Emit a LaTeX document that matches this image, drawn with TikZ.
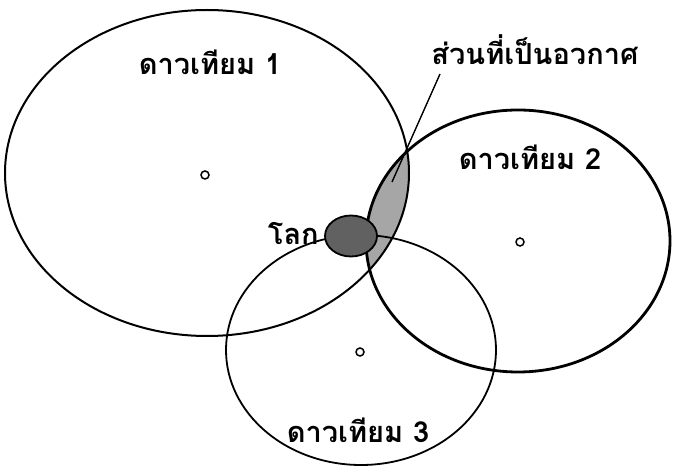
\documentclass[tikz,border=0pt]{standalone}
\usepackage{fontspec}
\usetikzlibrary{shapes.geometric}
\newfontfamily\thaifont[Script=Thai]{Loma}
\begin{document}
\begin{tikzpicture}[x=1pt,y=1pt,
  lbl/.style={font=\thaifont\bfseries\fontsize{29}{32}\selectfont, inner sep=0pt},
  cmark/.style={draw, line width=1.5pt, circle, minimum size=8pt, inner sep=0pt}]
\useasboundingbox (0,0) rectangle (675,466);
% lens (intersection of coverage 1 and 2)
\begin{scope}
  \clip (207,293) ellipse [x radius=202, y radius=163];
  \fill[black!35] (518,225) ellipse [x radius=152, y radius=131];
\end{scope}
\draw[line width=2pt] (207,293) ellipse [x radius=202, y radius=163];
\draw[line width=2.8pt] (518,225) ellipse [x radius=152, y radius=131];
\draw[line width=1.8pt] (361,116) ellipse [x radius=135, y radius=115];
% centres
\node[cmark] (c1) at (205,291) {};
\node[cmark] (c2) at (520,224) {};
\node[cmark] (c3) at (360,114) {};
% earth
\node[draw, line width=1.8pt, fill=black!62, ellipse, minimum width=52pt, minimum height=41pt, inner sep=0pt] (earth) at (351,230) {};
% labels
\node[lbl] (l1) at (210,404) {ดาวเทียม 1};
\node[lbl] (l2) at (530,309) {ดาวเทียม 2};
\node[lbl] (l3) at (358,36) {ดาวเทียม 3};
\node[lbl] (ls) at (535,416) {ส่วนที่เป็นอวกาศ};
\node[lbl, anchor=east] (le) at (319,232) {โลก};
\coordinate (tip) at (392,284);
\draw[line width=1.4pt] (440,392) -- (tip);
\end{tikzpicture}
\end{document}
